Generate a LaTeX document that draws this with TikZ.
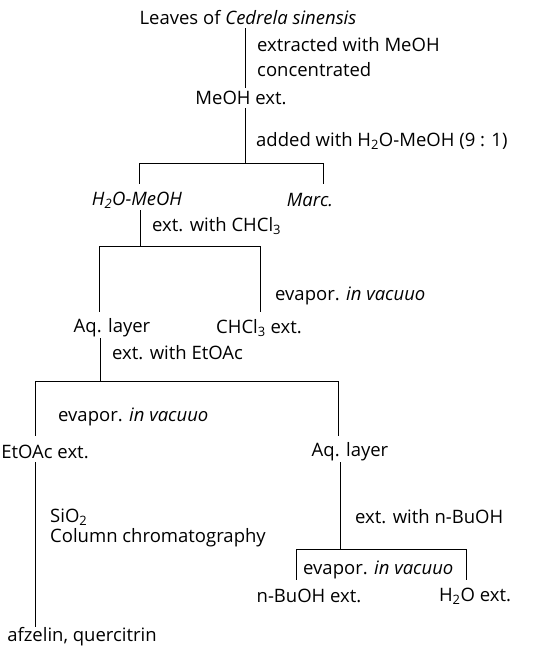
\documentclass[tikz,border=0pt]{standalone}
\usepackage{fontspec}
\setmainfont{Open Sans}
\usetikzlibrary{positioning}
\tikzset{
  extrato/.style={inner sep=0pt, minimum height=20pt, font=\fontsize{18.5}{21}\selectfont},
  etapa/.style={inner sep=0pt, anchor=west, font=\fontsize{18.5}{21}\selectfont},
  linha/.style={line width=0.9pt},
  ramo/.style={linha, shorten >=6pt},
}

\begin{document}
\begin{tikzpicture}[x=1pt,y=-1pt]
  \useasboundingbox (0,0) rectangle (538,649);
  % extratos
  \node[extrato] (folhas) at (248,18) {Leaves of \textit{Cedrela sinensis}};
  \node[extrato] (meoh) at (241,98) {MeOH ext.};
  \node[extrato] (agua) at (137,200) {\textit{H\textsubscript{2}O-MeOH}};
  \node[extrato] (marc) at (310,200) {\textit{Marc.}};
  \node[extrato] (aq1) at (112,328) {Aq. layer};
  \node[extrato] (chcl) at (259,328) {CHCl\textsubscript{3} ext.};
  \node[extrato] (etoac) at (45,452) {EtOAc ext.};
  \node[extrato] (aq2) at (350,452) {Aq. layer};
  \node[extrato] (buoh) at (309,596) {n-BuOH ext.};
  \node[extrato] (h2o) at (475,596) {H\textsubscript{2}O ext.};
  \node[extrato] (fim) at (82,637) {afzelin, quercitrin};
  % etapas
  \node[etapa] (e1) at (257,45) {extracted with MeOH};
  \node[etapa] (e2) at (257,70) {concentrated};
  \node[etapa] (e3) at (256,141) {added with H\textsubscript{2}O-MeOH (9 : 1)};
  \node[etapa] (e4) at (152,226) {ext. with CHCl\textsubscript{3}};
  \node[etapa] (e5) at (275,296) {evapor. \textit{in vacuuo}};
  \node[etapa] (e6) at (112,353) {ext. with EtOAc};
  \node[etapa] (e7) at (58,417) {evapor. \textit{in vacuuo}};
  \node[etapa] (e8) at (50,517) {SiO\textsubscript{2}};
  \node[etapa] (e9) at (50,538) {Column chromatography};
  \node[etapa] (e10) at (355,517) {ext. with n-BuOH};
  \node[etapa] (e11) at (303,570) {evapor. \textit{in vacuuo}};
  % juncoes
  \coordinate (b1) at (245,163);
  \coordinate (b1e) at (139,163);
  \coordinate (b1d) at (323,163);
  \coordinate (b2) at (140,246);
  \coordinate (b2e) at (99,246);
  \coordinate (b2d) at (260,246);
  \coordinate (b3) at (100,381);
  \coordinate (b3e) at (35,381);
  \coordinate (b3d) at (338,381);
  \coordinate (b4) at (340,549);
  \coordinate (b4e) at (296,549);
  \coordinate (b4d) at (466,549);
  % linhas
  \draw[linha] (folhas.south -| b1) -- (meoh.north -| b1);
  \draw[linha] (meoh.south -| b1) -- (b1);
  \draw[linha] (b1e) -- (b1d);
  \draw[ramo] (b1e) -- (agua.north -| b1e);
  \draw[ramo] (b1d) -- (marc.north -| b1d);
  \draw[linha] (agua.south -| b2) -- (b2);
  \draw[linha] (b2e) -- (b2d);
  \draw[ramo] (b2e) -- (aq1.north -| b2e);
  \draw[ramo] (b2d) -- (chcl.north -| b2d);
  \draw[linha] (aq1.south -| b3) -- (b3);
  \draw[linha] (b3e) -- (b3d);
  \draw[ramo] (b3e) -- (etoac.north -| b3e);
  \draw[ramo] (b3d) -- (aq2.north -| b3d);
  \draw[linha] (etoac.south -| b3e) -- (fim.north -| b3e);
  \draw[linha] (aq2.south -| b4) -- (b4);
  \draw[linha] (b4e) -- (b4d);
  \draw[ramo] (b4e) -- (buoh.north -| b4e);
  \draw[ramo] (b4d) -- (h2o.north -| b4d);
\end{tikzpicture}
\end{document}
